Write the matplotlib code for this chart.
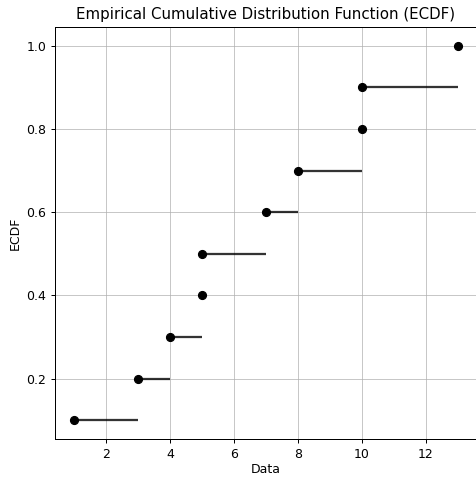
import numpy as np
import matplotlib.pyplot as plt

# sample data behind the ECDF
data = [1, 3, 4, 5, 5, 7, 8, 10, 10, 13]

x = np.sort(data)
y = np.arange(1, len(x) + 1) / len(x)

fig = plt.figure(figsize=(476 / 90, 477 / 90), dpi=90)
ax = fig.add_axes([55 / 476, 38 / 477, 422 / 476, 412 / 477])

# horizontal steps to the next point
ax.hlines(y[:-1], x[:-1], x[1:], colors='black', linewidth=1.8, alpha=0.8)
ax.scatter(x, y, color='black', s=40, zorder=3)

ax.set_title("Empirical Cumulative Distribution Function (ECDF)")
ax.set_xlabel('Data', labelpad=2)
ax.set_ylabel('ECDF')
ax.grid(True, alpha=0.7)

fig.savefig('out.png', dpi=90)
